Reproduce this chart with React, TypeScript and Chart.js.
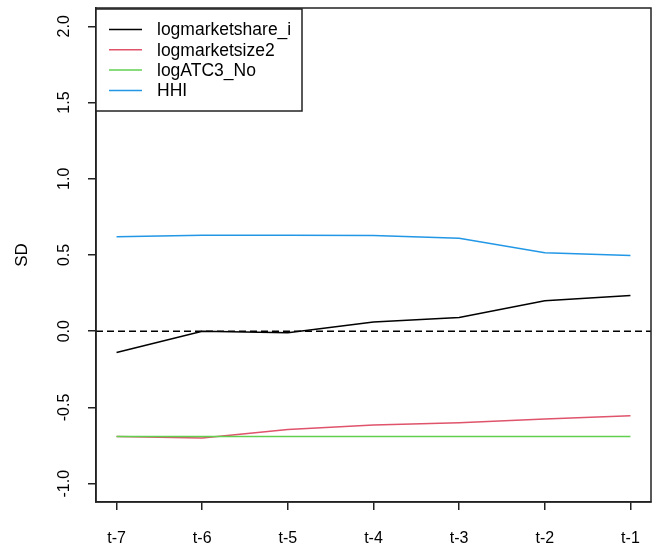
import React, { useEffect, useRef } from "react";
import { Chart, registerables } from "chart.js";

Chart.register(...registerables);

const periods = ["t-7", "t-6", "t-5", "t-4", "t-3", "t-2", "t-1"];
const seriesNames = ["logmarketshare_i", "logmarketsize2", "logATC3_No", "HHI"];
const seriesColors = ["#000000", "#DF536B", "#61D04F", "#2297E6"];
const logmarketshare_i = [-0.14, 0.0, -0.01, 0.06, 0.09, 0.2, 0.235];
const logmarketsize2 = [-0.69, -0.7, -0.645, -0.615, -0.6, -0.575, -0.555];
const logATC3_No = [-0.69, -0.69, -0.69, -0.69, -0.69, -0.69, -0.69];
const HHI = [0.62, 0.63, 0.63, 0.628, 0.61, 0.515, 0.497];
const yTicks = [-1, -0.5, 0, 0.5, 1, 1.5, 2];
const yTickLabels = ["-1.0", "-0.5", "0.0", "0.5", "1.0", "1.5", "2.0"];
const yTitle = "SD";
const yRange = [-1.12, 2.12];
const xRange = [0.76, 7.24];
const refLine = 0;

const allSeries = [logmarketshare_i, logmarketsize2, logATC3_No, HHI];
const FONT = "'Liberation Sans', Arial, sans-serif";

const customPlugin = {
  id: "rstyle",
  beforeDatasetsDraw(chart: any) {
    const { ctx, chartArea } = chart;
    const y = chart.scales.y.getPixelForValue(refLine);
    ctx.save();
    ctx.strokeStyle = "#000";
    ctx.lineWidth = 1.5;
    ctx.setLineDash([7, 4]);
    ctx.beginPath();
    ctx.moveTo(chartArea.left, y);
    ctx.lineTo(chartArea.right, y);
    ctx.stroke();
    ctx.restore();
  },
  afterDraw(chart: any) {
    const { ctx, chartArea } = chart;
    const ys = chart.scales.y;
    ctx.save();
    // box
    ctx.strokeStyle = "#222";
    ctx.lineWidth = 1.5;
    ctx.strokeRect(chartArea.left, chartArea.top, chartArea.right - chartArea.left, chartArea.bottom - chartArea.top);
    // y tick labels rotated
    ctx.fillStyle = "#000";
    ctx.font = `16px ${FONT}`;
    ctx.textAlign = "center";
    ctx.textBaseline = "middle";
    yTicks.forEach((v, i) => {
      const py = ys.getPixelForValue(v);
      ctx.save();
      ctx.translate(chartArea.left - 31, py);
      ctx.rotate(-Math.PI / 2);
      ctx.fillText(yTickLabels[i], 0, 0);
      ctx.restore();
    });
    // y title
    ctx.save();
    ctx.font = `17px ${FONT}`;
    ctx.translate(22, (chartArea.top + chartArea.bottom) / 2);
    ctx.rotate(-Math.PI / 2);
    ctx.fillText(yTitle, 0, 0);
    ctx.restore();
    // legend
    const lx = chartArea.left;
    const ly = chartArea.top + 1;
    const lw = 206;
    const lh = 102;
    ctx.fillStyle = "#fff";
    ctx.fillRect(lx, ly, lw, lh);
    ctx.strokeStyle = "#222";
    ctx.lineWidth = 1.5;
    ctx.strokeRect(lx, ly, lw, lh);
    ctx.font = `17.5px ${FONT}`;
    ctx.textAlign = "left";
    ctx.textBaseline = "middle";
    seriesNames.forEach((name, i) => {
      const ry = ly + 20.5 + i * 20.3;
      ctx.strokeStyle = seriesColors[i];
      ctx.lineWidth = 1.5;
      ctx.beginPath();
      ctx.moveTo(lx + 13, ry);
      ctx.lineTo(lx + 46, ry);
      ctx.stroke();
      ctx.fillStyle = "#000";
      ctx.fillText(name, lx + 61, ry + 1);
    });
    ctx.restore();
  },
};

export default function App() {
  const canvasRef = useRef<HTMLCanvasElement | null>(null);

  useEffect(() => {
    if (!canvasRef.current) return;
    const datasets = seriesNames.map((name, i) => ({
      label: name,
      data: allSeries[i].map((v, j) => ({ x: j + 1, y: v })),
      borderColor: seriesColors[i],
      backgroundColor: seriesColors[i],
      borderWidth: 1.5,
      pointRadius: 0,
      tension: 0,
      fill: false,
      order: seriesNames.length - i,
    }));
    const chart = new Chart(canvasRef.current, {
      type: "line",
      data: { datasets },
      plugins: [customPlugin],
      options: {
        animation: false,
        responsive: true,
        maintainAspectRatio: false,
        layout: { padding: { top: 8, right: 3, left: 0, bottom: 0 } },
        plugins: { legend: { display: false }, tooltip: { enabled: false } },
        scales: {
          x: {
            type: "linear",
            min: xRange[0],
            max: xRange[1],
            afterBuildTicks: (scale: any) => {
              scale.ticks = periods.map((_, i) => ({ value: i + 1 }));
            },
            afterFit: (scale: any) => {
              scale.height = 45;
              scale.paddingLeft = 0;
              scale.paddingRight = 0;
            },
            ticks: {
              callback: (v: any) => periods[Math.round(v) - 1] ?? "",
              color: "#000",
              font: { size: 16, family: FONT },
              padding: 19,
              maxRotation: 0,
              minRotation: 0,
            },
            grid: {
              drawOnChartArea: false,
              drawTicks: true,
              tickLength: 8,
              color: "#222",
              lineWidth: 1.5,
            },
            border: { display: true, color: "#222", width: 1.5 },
          },
          y: {
            type: "linear",
            min: yRange[0],
            max: yRange[1],
            afterBuildTicks: (scale: any) => {
              scale.ticks = yTicks.map((v) => ({ value: v }));
            },
            afterFit: (scale: any) => {
              scale.width = 96;
              scale.paddingTop = 0;
              scale.paddingBottom = 0;
            },
            ticks: { display: false },
            grid: {
              drawOnChartArea: false,
              drawTicks: true,
              tickLength: 8,
              color: "#222",
              lineWidth: 1.5,
            },
            border: { display: true, color: "#222", width: 1.5 },
          },
        },
      },
    });
    return () => chart.destroy();
  }, []);

  return (
    <div style={{ position: "fixed", left: 0, top: 0, width: 654, height: 547, background: "#fff" }}>
      <canvas ref={canvasRef} />
    </div>
  );
}
